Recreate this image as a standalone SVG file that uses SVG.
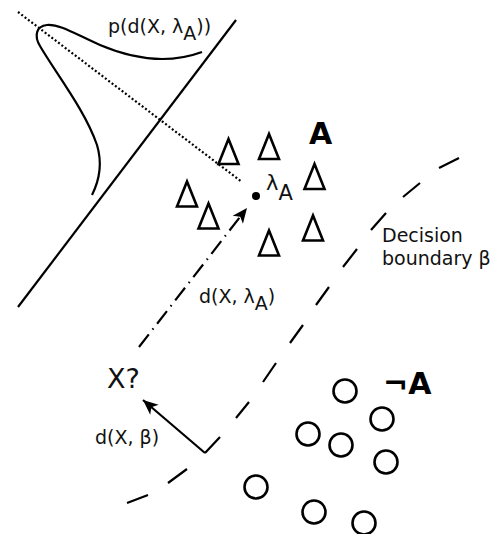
<svg xmlns="http://www.w3.org/2000/svg" width="499" height="534" viewBox="0 0 499 534">
  <style>
    .ln { fill: none; stroke: #000; stroke-width: 2.2; }
    .lbl { font-family: "DejaVu Sans", sans-serif; font-size: 19px; fill: #111; }
    .big { font-family: "DejaVu Sans", sans-serif; font-weight: bold; font-size: 30px; fill: #000; }
    .tri { fill: none; stroke: #000; stroke-width: 2.6; stroke-linejoin: miter; }
    .circ { fill: none; stroke: #000; stroke-width: 2.6; }
  </style>
  <defs>
    <path id="tri" d="M0,-12.5 L10,12.5 L-10,12.5 Z"/>
    <marker id="head" viewBox="-16 -8 18 16" markerWidth="18" markerHeight="16" refX="0" refY="0" orient="auto" markerUnits="userSpaceOnUse">
      <path d="M0,0 L-15,-6.5 L-11,0 L-15,6.5 Z" fill="#000"/>
    </marker>
  </defs>
  <rect width="499" height="534" fill="#fff"/>

  <!-- projection axis, its normal and the density curve -->
  <g id="axis">
    <line class="ln" x1="236" y1="20" x2="18" y2="307"/>
    <line class="ln" x1="18" y1="12" x2="242" y2="182" stroke-dasharray="2 2.2"/>
    <path class="ln" d="M202,52 C175,62 140,62 100,45 C75,34 60,24 47,25 C36,26 34,36 40,46 C55,72 85,110 97,145 C103,165 98,183 92,195"/>
    <text class="lbl" x="108" y="33">p(d(X, λ<tspan dy="7">A</tspan><tspan dy="-7">))</tspan></text>
  </g>

  <!-- class A samples -->
  <g id="class-a">
    <use href="#tri" class="tri" x="228.5" y="151.5"/>
    <use href="#tri" class="tri" x="269" y="146.5"/>
    <use href="#tri" class="tri" x="187" y="194"/>
    <use href="#tri" class="tri" x="208.5" y="216"/>
    <use href="#tri" class="tri" x="314.5" y="176.5"/>
    <use href="#tri" class="tri" x="269" y="243"/>
    <use href="#tri" class="tri" x="313" y="228"/>
    <text class="big" x="309" y="144">A</text>
  </g>

  <!-- class mean -->
  <g id="mean">
    <circle cx="256" cy="196" r="4" fill="#000"/>
    <text class="lbl" x="266" y="190" style="font-size:21px">λ<tspan dy="10">A</tspan></text>
  </g>

  <!-- class not-A samples -->
  <g id="class-not-a">
    <circle class="circ" cx="345" cy="391" r="11.5"/>
    <circle class="circ" cx="382" cy="419" r="11.5"/>
    <circle class="circ" cx="308" cy="434" r="11.5"/>
    <circle class="circ" cx="341" cy="445" r="11.5"/>
    <circle class="circ" cx="386" cy="462" r="11.5"/>
    <circle class="circ" cx="256" cy="487" r="11.5"/>
    <circle class="circ" cx="314" cy="512" r="11.5"/>
    <circle class="circ" cx="364" cy="523" r="11.5"/>
    <text class="big" x="383" y="394">¬A</text>
  </g>

  <!-- decision boundary -->
  <g id="boundary">
    <path class="ln" d="M127,503 L148,495 M168,483 L187,469 M205,453 L220,437 M236,418 L249,402 M263,382 L276,363 M290,343 L303,325 M316,305 L329,287 M343,267 L357,249 M371,230 L386,213 M403,197 L420,183 M439,168 L459,158"/>
    <text class="lbl" x="382" y="242">Decision</text>
    <text class="lbl" x="382" y="265">boundary β</text>
  </g>

  <!-- query point -->
  <g id="query">
    <text class="lbl" x="107" y="388" style="font-size:27px">X?</text>
  </g>

  <!-- distances -->
  <g id="connectors">
    <line class="ln" x1="139" y1="347" x2="247" y2="208" stroke-dasharray="16 6 1.5 6" marker-end="url(#head)"/>
    <line class="ln" x1="205" y1="453" x2="143" y2="400" marker-end="url(#head)"/>
    <text class="lbl" x="199" y="303">d(X, λ<tspan dy="7">A</tspan><tspan dy="-7">)</tspan></text>
    <text class="lbl" x="95" y="444">d(X, β)</text>
  </g>
</svg>
